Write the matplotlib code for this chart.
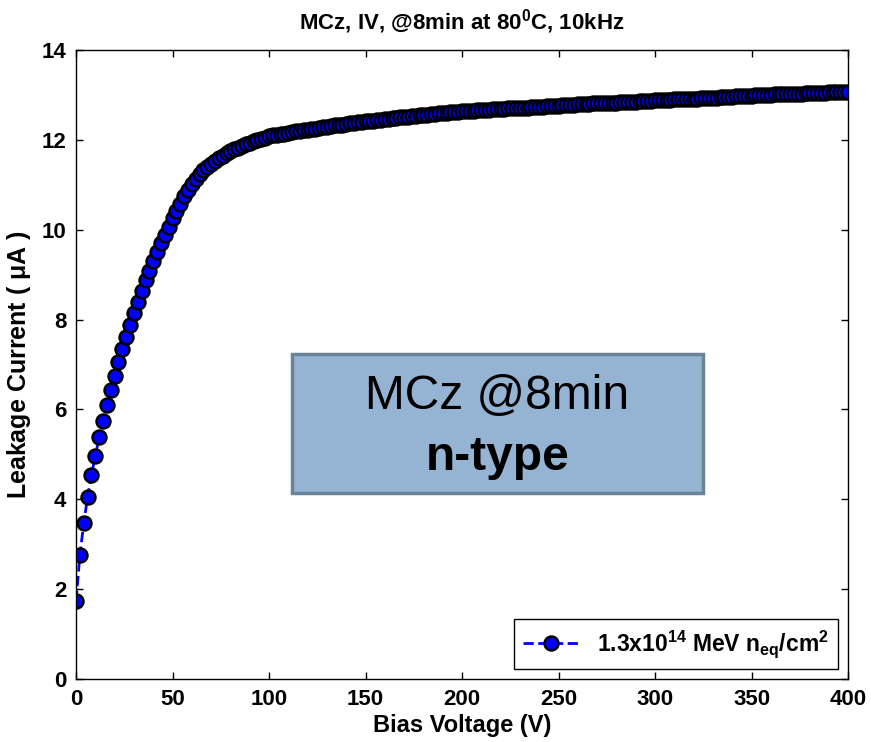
import numpy as np
import matplotlib
matplotlib.use("Agg")
import matplotlib.pyplot as plt
from matplotlib.patches import Rectangle

plt.rcParams['font.family'] = ['Liberation Sans', 'DejaVu Sans']
plt.rcParams['mathtext.fontset'] = 'custom'
plt.rcParams['mathtext.rm'] = 'Liberation Sans:bold'
plt.rcParams['mathtext.bf'] = 'Liberation Sans:bold'
plt.rcParams['mathtext.it'] = 'Liberation Sans:bold'
plt.rcParams['mathtext.default'] = 'regular'

# bias voltage (V), 2 V steps
bias = list(range(0, 402, 2))
# leakage current (uA)
current = [
    1.74, 2.76, 3.47, 4.05, 4.55, 4.97, 5.38, 5.75, 6.10, 6.44,
    6.75, 7.05, 7.34, 7.62, 7.89, 8.15, 8.40, 8.64, 8.87, 9.09,
    9.30, 9.50, 9.70, 9.89, 10.07, 10.25, 10.42, 10.58, 10.74, 10.88,
    11.02, 11.13, 11.23, 11.32, 11.40, 11.47, 11.54, 11.60, 11.65, 11.70,
    11.75, 11.79, 11.83, 11.87, 11.90, 11.94, 11.97, 12.00, 12.03, 12.05,
    12.08, 12.10, 12.11, 12.13, 12.14, 12.16, 12.17, 12.19, 12.20, 12.21,
    12.23, 12.24, 12.25, 12.26, 12.28, 12.29, 12.30, 12.32, 12.33, 12.34,
    12.35, 12.37, 12.38, 12.39, 12.40, 12.41, 12.42, 12.43, 12.44, 12.45,
    12.46, 12.47, 12.48, 12.49, 12.50, 12.51, 12.52, 12.53, 12.54, 12.55,
    12.56, 12.56, 12.57, 12.58, 12.59, 12.60, 12.60, 12.61, 12.62, 12.63,
    12.64, 12.64, 12.65, 12.65, 12.66, 12.66, 12.67, 12.67, 12.68, 12.68,
    12.69, 12.69, 12.70, 12.70, 12.71, 12.71, 12.72, 12.72, 12.73, 12.73,
    12.74, 12.74, 12.75, 12.75, 12.76, 12.76, 12.77, 12.77, 12.78, 12.78,
    12.79, 12.79, 12.80, 12.80, 12.81, 12.81, 12.81, 12.82, 12.82, 12.83,
    12.83, 12.84, 12.84, 12.85, 12.85, 12.85, 12.86, 12.86, 12.87, 12.87,
    12.88, 12.88, 12.89, 12.89, 12.89, 12.90, 12.90, 12.91, 12.91, 12.92,
    12.92, 12.92, 12.93, 12.93, 12.94, 12.94, 12.94, 12.95, 12.95, 12.96,
    12.96, 12.97, 12.97, 12.97, 12.98, 12.98, 12.99, 12.99, 12.99, 13.00,
    13.00, 13.01, 13.01, 13.01, 13.02, 13.02, 13.03, 13.03, 13.03, 13.04,
    13.04, 13.04, 13.05, 13.05, 13.05, 13.06, 13.06, 13.06, 13.07, 13.07,
    13.07,
]
series_label = '1.3x10$^{14}$ MeV n$_{eq}$/cm$^{2}$'
xticks = [0, 50, 100, 150, 200, 250, 300, 350, 400]
yticks = [0, 2, 4, 6, 8, 10, 12, 14]

fig = plt.figure(figsize=(8.71, 7.42), dpi=100)
ax = fig.add_axes([0.0873, 0.0849, 0.8863, 0.8477])

ax.plot(bias, current, linestyle='--', color='blue', linewidth=2,
        marker='o', markersize=10, markerfacecolor='blue',
        markeredgecolor='black', markeredgewidth=1.8, label=series_label)

ax.set_xlim(0, 400)
ax.set_ylim(0, 14)
ax.set_xticks(xticks)
ax.set_yticks(yticks)
ax.tick_params(direction='in', length=5, width=1, top=True, right=True,
               labelsize=16, pad=7)
for lbl in ax.get_xticklabels() + ax.get_yticklabels():
    lbl.set_fontweight('bold')
for sp in ax.spines.values():
    sp.set_linewidth(1)

ax.set_xlabel('Bias Voltage (V)', fontsize=17, fontweight='bold', labelpad=3)
ax.set_ylabel('Leakage Current ( $\\mu$A )', fontsize=18, fontweight='bold', labelpad=6)
ax.set_title('MCz, IV, @8min at 80$^0$C, 10kHz', fontsize=16, fontweight='bold', pad=15)

leg = ax.legend(loc='lower right', fancybox=False, edgecolor='black',
                framealpha=1, handlelength=2.4, borderaxespad=0.45,
                prop={'size': 16.5, 'weight': 'bold'})
leg.get_frame().set_linewidth(1)

# annotation box
fig.patches.append(Rectangle((0.335, 0.3356), 0.472, 0.1873, transform=fig.transFigure,
                             facecolor='#95b3d3', edgecolor='#6b8399', linewidth=2.5,
                             zorder=5))
fig.text(0.571, 0.465, 'MCz @8min', fontsize=34.5, ha='center', va='center', zorder=6)
fig.text(0.571, 0.384, 'n-type', fontsize=34.5, fontweight='bold', ha='center', va='center', zorder=6)

fig.savefig('out.png', dpi=100)
